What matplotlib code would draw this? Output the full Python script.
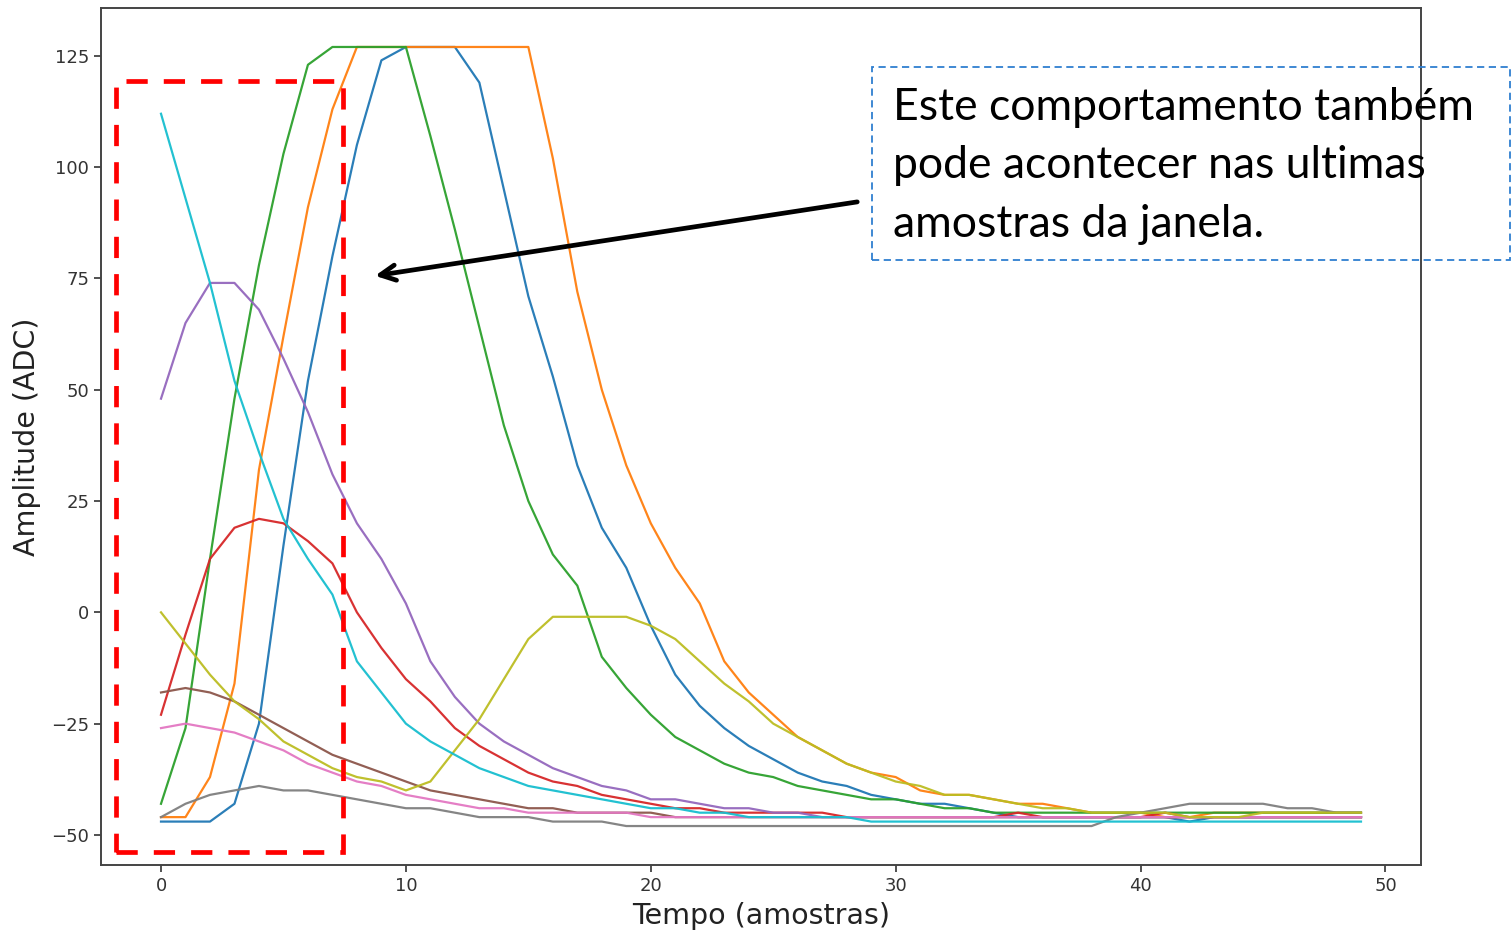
import matplotlib
matplotlib.use("Agg")
import matplotlib.pyplot as plt
from matplotlib.patches import Rectangle

# ADC pulse windows, 50 samples each (tab10 order)
samples = list(range(50))

pulse_0 = [-47, -47, -47, -43, -25, 15, 52, 80, 105, 124,
           127, 127, 127, 119, 95, 71, 53, 33, 19, 10,
           -3, -14, -21, -26, -30, -33, -36, -38, -39, -41,
           -42, -43, -43, -44, -45, -46, -46, -46, -46, -46,
           -46, -46, -47, -46, -46, -46, -46, -46, -46, -46]
pulse_1 = [-46, -46, -37, -16, 32, 62, 91, 113, 127, 127,
           127, 127, 127, 127, 127, 127, 102, 72, 50, 33,
           20, 10, 2, -11, -18, -23, -28, -31, -34, -36,
           -37, -40, -41, -41, -42, -43, -43, -44, -45, -45,
           -45, -46, -46, -45, -45, -45, -45, -45, -45, -45]
pulse_2 = [-43, -26, 12, 48, 78, 103, 123, 127, 127, 127,
           127, 107, 86, 64, 42, 25, 13, 6, -10, -17,
           -23, -28, -31, -34, -36, -37, -39, -40, -41, -42,
           -42, -43, -44, -44, -45, -45, -45, -45, -45, -45,
           -45, -45, -45, -45, -45, -45, -45, -45, -45, -45]
pulse_3 = [-23, -5, 12, 19, 21, 20, 16, 11, 0, -8,
           -15, -20, -26, -30, -33, -36, -38, -39, -41, -42,
           -43, -44, -44, -45, -45, -45, -45, -45, -46, -46,
           -46, -46, -46, -46, -46, -45, -46, -46, -46, -46,
           -46, -45, -46, -46, -46, -46, -46, -46, -46, -46]
pulse_4 = [48, 65, 74, 74, 68, 57, 45, 31, 20, 12,
           2, -11, -19, -25, -29, -32, -35, -37, -39, -40,
           -42, -42, -43, -44, -44, -45, -45, -46, -46, -46,
           -46, -46, -46, -46, -46, -46, -46, -46, -46, -46,
           -46, -46, -46, -46, -46, -46, -46, -46, -46, -46]
pulse_5 = [-18, -17, -18, -20, -23, -26, -29, -32, -34, -36,
           -38, -40, -41, -42, -43, -44, -44, -45, -45, -45,
           -45, -46, -46, -46, -46, -46, -46, -46, -46, -46,
           -46, -46, -46, -46, -46, -46, -46, -46, -46, -46,
           -46, -46, -46, -46, -46, -46, -46, -46, -46, -46]
pulse_6 = [-26, -25, -26, -27, -29, -31, -34, -36, -38, -39,
           -41, -42, -43, -44, -44, -45, -45, -45, -45, -45,
           -46, -46, -46, -46, -46, -46, -46, -46, -46, -46,
           -46, -46, -46, -46, -46, -46, -46, -46, -46, -46,
           -46, -46, -46, -46, -46, -46, -46, -46, -46, -46]
pulse_7 = [-46, -43, -41, -40, -39, -40, -40, -41, -42, -43,
           -44, -44, -45, -46, -46, -46, -47, -47, -47, -48,
           -48, -48, -48, -48, -48, -48, -48, -48, -48, -48,
           -48, -48, -48, -48, -48, -48, -48, -48, -48, -46,
           -45, -44, -43, -43, -43, -43, -44, -44, -45, -45]
pulse_8 = [0, -7, -14, -20, -24, -29, -32, -35, -37, -38,
           -40, -38, -31, -24, -15, -6, -1, -1, -1, -1,
           -3, -6, -11, -16, -20, -25, -28, -31, -34, -36,
           -38, -39, -41, -41, -42, -43, -44, -44, -45, -45,
           -45, -45, -46, -46, -46, -45, -45, -45, -45, -45]
pulse_9 = [112, 93, 74, 52, 36, 21, 12, 4, -11, -18,
           -25, -29, -32, -35, -37, -39, -40, -41, -42, -43,
           -44, -44, -45, -45, -46, -46, -46, -46, -46, -47,
           -47, -47, -47, -47, -47, -47, -47, -47, -47, -47,
           -47, -47, -47, -47, -47, -47, -47, -47, -47, -47]

pulses = [pulse_0, pulse_1, pulse_2, pulse_3, pulse_4,
          pulse_5, pulse_6, pulse_7, pulse_8, pulse_9]

note_lines = ["Este comportamento também",
              "pode acontecer nas ultimas",
              "amostras da janela."]

fig = plt.figure(figsize=(15.12, 9.33), dpi=100)
ax = fig.add_axes([0.0668, 0.0729, 0.8730, 0.9185])

for p in pulses:
    ax.plot(samples, p, lw=1.6, alpha=0.95)

ax.set_xticks([0, 10, 20, 30, 40, 50])
ax.set_yticks([-50, -25, 0, 25, 50, 75, 100, 125])
ax.tick_params(labelsize=13, colors="#333333", length=5, width=1.2)
for s in ax.spines.values():
    s.set_color("#444444")
    s.set_linewidth(1.4)
ax.set_xlabel("Tempo (amostras)", fontsize=20.5, color="#222222", labelpad=5)
ax.set_ylabel("Amplitude (ADC)", fontsize=20.5, color="#222222", labelpad=7)

# highlight of the first samples of the window
ax.add_patch(Rectangle((-1.84, -53.8), 9.27, 173.2, fill=False,
                       edgecolor="#ff0000", lw=3.4,
                       linestyle=(0, (4.5, 3.4)), zorder=5))

ax.annotate("", xy=(8.74, 75.6), xytext=(28.43, 92.2),
            arrowprops=dict(arrowstyle="->,head_length=1.1,head_width=0.55",
                            lw=3.4, color="black", shrinkA=0, shrinkB=0),
            zorder=6)

# note box, partly outside the axes
fig.add_artist(Rectangle((872 / 1512, 1 - 260 / 933), 638 / 1512, 193 / 933,
                         transform=fig.transFigure, fill=False,
                         edgecolor="#2f7fd0", lw=1.3,
                         linestyle=(0, (4, 2.5))))
for k, line in enumerate(note_lines):
    fig.text(893 / 1512, 1 - (120 + 58.5 * k) / 933, line,
             family="Lato", fontsize=32, color="black",
             ha="left", va="baseline")

fig.savefig("out.png", dpi=100)
